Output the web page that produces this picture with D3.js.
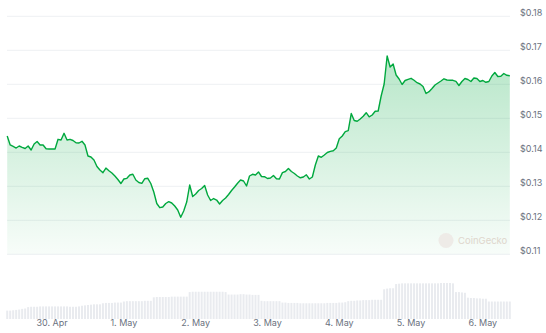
<!DOCTYPE html>
<html lang="en">
<meta charset="utf-8"/>
<head>
<style>
  body { margin: 0; background: #ffffff; }
  svg { display: block; }
  * { font-family: "Inter", "Noto Sans", sans-serif; }
  .tick-label { font-size: 9px; fill: #6b7280; }
</style>
</head>
<body>
<svg id="container" width="546" height="333"></svg>

<script src="https://d3js.org/d3.v7.min.js"></script>
<script>
// hourly prices (USD), starting 29 Apr 09:00
let startTime = Date.UTC(2024, 3, 29, 9)
let prices = [
  0.14479, 0.14215, 0.14171, 0.14126, 0.14185, 0.14147, 0.14112, 0.14185, 0.14068, 0.14244,
  0.14318, 0.14215, 0.14215, 0.14106, 0.14097, 0.14097, 0.14097, 0.14382, 0.14362, 0.14559,
  0.14362, 0.14382, 0.14347, 0.14282, 0.14274, 0.14324, 0.14215, 0.13891, 0.13862, 0.13774,
  0.13582, 0.13479, 0.13400, 0.13538, 0.13459, 0.13391, 0.13303, 0.13200, 0.13082, 0.13215,
  0.13235, 0.13332, 0.13353, 0.13185, 0.13112, 0.13088, 0.13224, 0.13235, 0.13082, 0.12832,
  0.12494, 0.12371, 0.12391, 0.12494, 0.12547, 0.12509, 0.12421, 0.12303, 0.12088, 0.12274,
  0.12538, 0.13038, 0.12700, 0.12774, 0.12876, 0.12935, 0.13024, 0.12744, 0.12582, 0.12641,
  0.12597, 0.12479, 0.12582, 0.12656, 0.12759, 0.12876, 0.12979, 0.13091, 0.13185, 0.13156,
  0.13009, 0.13303, 0.13353, 0.13332, 0.13421, 0.13288, 0.13282, 0.13229, 0.13244, 0.13318,
  0.13221, 0.13215, 0.13403, 0.13435, 0.13524, 0.13435, 0.13376, 0.13303, 0.13250, 0.13274,
  0.13338, 0.13215, 0.13274, 0.13626, 0.13891, 0.13853, 0.13921, 0.13994, 0.14029, 0.14047,
  0.14126, 0.14400, 0.14479, 0.14606, 0.14635, 0.15141, 0.14935, 0.14912, 0.14979, 0.15059,
  0.15165, 0.15044, 0.15097, 0.15209, 0.15215, 0.15656, 0.16009, 0.16832, 0.16509, 0.16597,
  0.16273, 0.16156, 0.15994, 0.16112, 0.16147, 0.16176, 0.16118, 0.16047, 0.16009, 0.15935,
  0.15729, 0.15782, 0.15876, 0.15979, 0.16038, 0.16097, 0.16162, 0.16126, 0.16121, 0.16118,
  0.16085, 0.15965, 0.16082, 0.16171, 0.16141, 0.16082, 0.16185, 0.16171, 0.16082, 0.16112,
  0.16059, 0.16082, 0.16244, 0.16347, 0.16229, 0.16238, 0.16318, 0.16265, 0.16253
]
// hourly volume (millions USD)
let volumes = [
  2.4, 2.4, 2.5, 2.6, 2.7, 2.9, 3.0, 3.4, 3.5, 3.5,
  3.5, 3.6, 3.6, 3.6, 3.6, 3.6, 3.6, 3.6, 3.6, 3.6,
  3.6, 3.5, 3.5, 3.5, 3.6, 3.8, 3.9, 4.0, 4.1, 4.2,
  4.2, 4.2, 4.5, 4.6, 4.6, 4.6, 4.7, 4.7, 4.7, 5.0,
  5.1, 5.1, 5.1, 5.1, 5.1, 5.1, 5.2, 5.2, 5.2, 6.2,
  6.3, 6.3, 6.3, 6.3, 6.3, 6.4, 6.4, 6.4, 6.4, 6.4,
  6.4, 7.7, 7.8, 7.8, 7.8, 7.8, 7.8, 7.8, 7.8, 7.8,
  7.8, 7.8, 7.8, 7.7, 7.0, 7.0, 7.0, 7.0, 7.1, 7.1,
  7.0, 7.0, 6.9, 6.9, 6.9, 5.2, 5.1, 5.1, 5.1, 5.1,
  5.1, 5.1, 4.7, 4.7, 4.6, 4.6, 4.6, 4.6, 4.5, 4.5,
  4.5, 4.5, 4.5, 4.5, 4.5, 4.5, 4.5, 4.6, 4.6, 4.6,
  4.6, 4.7, 4.7, 4.8, 5.1, 5.2, 5.2, 5.3, 5.3, 5.4,
  5.4, 5.4, 5.5, 5.5, 5.5, 5.5, 8.5, 8.7, 8.8, 8.8,
  10.0, 10.1, 10.2, 10.2, 10.2, 10.2, 10.2, 10.2, 10.2, 10.2,
  10.2, 10.2, 10.2, 10.2, 10.2, 10.3, 10.3, 10.3, 10.3, 10.2,
  7.7, 7.7, 7.6, 7.5, 6.1, 6.0, 6.0, 5.9, 5.9, 5.8,
  5.8, 5.0, 5.0, 5.0, 5.0, 5.0, 5.0, 5.0, 5.0
]
let priceTicks = [0.11, 0.12, 0.13, 0.14, 0.15, 0.16, 0.17, 0.18]
let dayTicks = [
  Date.UTC(2024, 3, 30), Date.UTC(2024, 4, 1), Date.UTC(2024, 4, 2), Date.UTC(2024, 4, 3),
  Date.UTC(2024, 4, 4), Date.UTC(2024, 4, 5), Date.UTC(2024, 4, 6)
].map(t => new Date(t))

let data = prices.map((p, i) => ({
  date: new Date(startTime + i * 3600 * 1000),
  price: p,
  volume: volumes[i]
}))

let svg = d3.select("svg")

let xScale = d3.scaleUtc()
  .domain([data[0].date, data[data.length - 1].date])
  .range([7.2, 509.8])

let yScale = d3.scaleLinear()
  .domain([0.11, 0.18])
  .range([254.3, 16.3])

let volScale = d3.scaleLinear()
  .domain([0, 10.3])
  .range([319, 283])

// gridlines + price labels
svg.append("g")
  .selectAll("line")
  .data(priceTicks)
  .join("line")
  .attr("x1", 7)
  .attr("x2", 510)
  .attr("y1", d => yScale(d))
  .attr("y2", d => yScale(d))
  .attr("stroke", "#eef0f3")
  .attr("stroke-width", 1)

svg.append("g")
  .selectAll("text")
  .data(priceTicks)
  .join("text")
  .attr("class", "tick-label")
  .attr("x", 520)
  .attr("y", d => yScale(d) - 2.5)
  .attr("dominant-baseline", "middle")
  .text(d => "$" + d.toFixed(2))

// gradient fill under the line
let grad = svg.append("defs").append("linearGradient")
  .attr("id", "fillGrad")
  .attr("gradientUnits", "userSpaceOnUse")
  .attr("x1", 0).attr("x2", 0)
  .attr("y1", yScale(0.168)).attr("y2", yScale(0.11))
grad.append("stop").attr("offset", "0%").attr("stop-color", "#00a83e").attr("stop-opacity", 0.28)
grad.append("stop").attr("offset", "100%").attr("stop-color", "#00a83e").attr("stop-opacity", 0.03)

let area = d3.area()
  .x(d => xScale(d.date))
  .y0(yScale(0.11))
  .y1(d => yScale(d.price))

svg.append("path")
  .datum(data)
  .attr("d", area)
  .attr("fill", "url(#fillGrad)")

// watermark
let wm = svg.append("g").attr("opacity", 0.9)
wm.append("circle").attr("cx", 446).attr("cy", 240.5).attr("r", 7.5).attr("fill", "#eeeae6")
wm.append("text")
  .attr("x", 458).attr("y", 241)
  .attr("dominant-baseline", "middle")
  .attr("font-size", "9.5px")
  .attr("fill", "#ddd3c9")
  .text("CoinGecko")

let line = d3.line()
  .x(d => xScale(d.date))
  .y(d => yScale(d.price))

svg.append("path")
  .datum(data)
  .attr("d", line)
  .attr("fill", "none")
  .attr("stroke", "#00a83e")
  .attr("stroke-width", 1.4)
  .attr("stroke-linejoin", "round")

// volume bars
svg.append("g")
  .selectAll("rect")
  .data(data)
  .join("rect")
  .attr("x", d => xScale(d.date) - 1)
  .attr("width", 2)
  .attr("y", d => volScale(d.volume))
  .attr("height", d => volScale(0) - volScale(d.volume))
  .attr("fill", "#e9ebef")

// date labels
svg.append("g")
  .selectAll("text")
  .data(dayTicks)
  .join("text")
  .attr("class", "tick-label")
  .attr("x", d => xScale(d))
  .attr("y", 326)
  .attr("text-anchor", "middle")
  .text(d => d3.utcFormat("%-d. %b")(d))
</script>
</body>
</html>
